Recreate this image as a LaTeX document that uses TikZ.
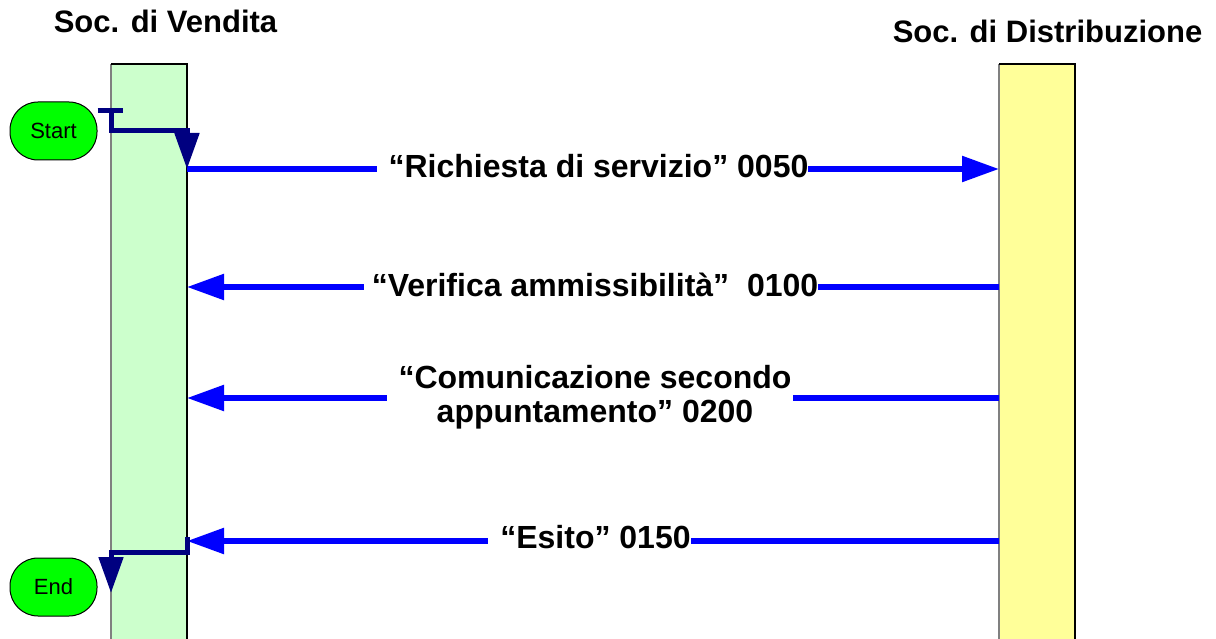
\documentclass[tikz,border=0pt]{standalone}
\usepackage{fontspec}
\setmainfont{Liberation Sans}
\usetikzlibrary{arrows.meta}
\definecolor{lanegreen}{HTML}{CCFFCC}
\definecolor{laneyellow}{HTML}{FFFF99}
\definecolor{termgreen}{HTML}{00FF00}
\definecolor{flownavy}{HTML}{000080}
\definecolor{msgblue}{HTML}{0000FF}
\begin{document}
\begin{tikzpicture}[x=1pt,y=-1pt,
  lanebox/.style={anchor=north, minimum width=76pt, minimum height=600pt, inner sep=0pt, outer sep=0pt},
  termnode/.style={draw=black, line width=1pt, fill=termgreen, minimum width=87pt, minimum height=58pt, rounded corners=28pt, inner sep=0pt, font=\fontsize{22}{26}\selectfont},
  lanetitle/.style={anchor=base, inner sep=0pt, font=\fontsize{31}{36}\selectfont\bfseries},
  msglabel/.style={fill=white, inner sep=0pt, font=\fontsize{32}{34}\selectfont\bfseries},
  msgarrow/.style={draw=msgblue, line width=5.5pt, -{Triangle[length=37pt,width=25pt]}},
  flowline/.style={draw=flownavy, line width=5pt, line join=miter},
  flowarrow/.style={flowline, -{Triangle[length=36pt,width=24pt]}},
]
\useasboundingbox (0,0) rectangle (1216,639);
\clip (0,0) rectangle (1216,639);

% lanes
\node[lanebox, fill=lanegreen] (vend) at (149,64) {};
\node[lanebox, fill=laneyellow] (dist) at (1037,64) {};
\draw[gray, line width=2pt] (vend.south west) -- (vend.north west);
\draw[black, line width=1.5pt] (vend.north west) -- (vend.north east) -- (vend.south east);
\draw[gray, line width=2pt] (dist.south west) -- (dist.north west);
\draw[black, line width=1.5pt] (dist.north west) -- (dist.north east) -- (dist.south east);

% titles
\node[lanetitle] (tv) at (165.5,33) {Soc. di Vendita};
\node[lanetitle] (td) at (1047.5,43) {Soc. di Distribuzione};

% terminals
\node[termnode] (start) at (53.5,131) {Start};
\node[termnode] (end) at (53.5,587) {End};

% helper rows
\coordinate (y0) at (0,111);
\coordinate (ym) at (0,131);
\coordinate (y1) at (0,169);
\coordinate (y2) at (0,287);
\coordinate (y3) at (0,398);
\coordinate (y4) at (0,541);
\coordinate (ye0) at (0,537);
\coordinate (ye1) at (0,552);
\coordinate (ye2) at (0,593);
\coordinate (stub) at (123,111);

% messages
\draw[msgarrow] (vend.east |- y1) -- (dist.west |- y1);
\draw[msgarrow] (dist.west |- y2) -- (vend.east |- y2);
\draw[msgarrow] (dist.west |- y3) -- (vend.east |- y3);
\draw[msgarrow] (dist.west |- y4) -- (vend.east |- y4);

\node[msglabel, anchor=base] (l1) at (592.5,178) {\hspace*{12pt}“Richiesta di servizio” 0050};
\node[msglabel, anchor=base] (l2) at (591,297) {\hspace*{8pt}“Verifica ammissibilità” \ 0100};
\node[msglabel] (l3) at (590,399) {\hspace*{12pt}\begin{tabular}{@{}c@{}}“Comunicazione secondo\\appuntamento” 0200\end{tabular}\hspace*{2pt}};
\node[msglabel, anchor=base] (l4) at (589.5,548) {\hspace*{12pt}“Esito” 0150};

% start / end flow connectors
\draw[flowline] (start.east |- y0) -- (stub);
\draw[flowarrow] (vend.west |- y0) -- (vend.west |- ym) -- (vend.east |- ym) -- (vend.east |- y1);
\draw[flowarrow] (vend.east |- ye0) -- (vend.east |- ye1) -- (vend.west |- ye1) -- (vend.west |- ye2);
\end{tikzpicture}
\end{document}
